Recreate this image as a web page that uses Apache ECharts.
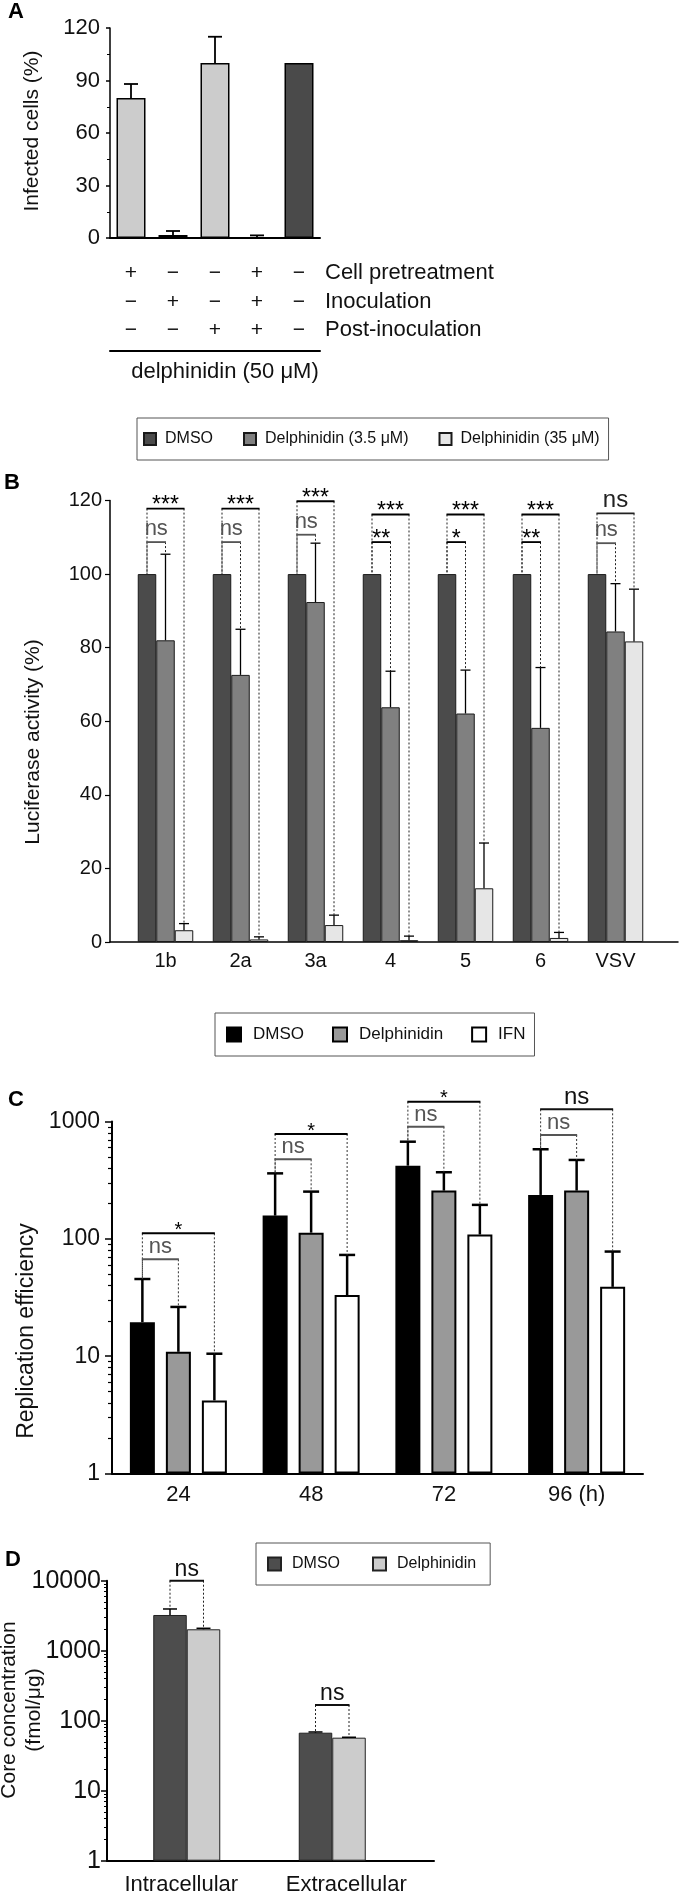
<!DOCTYPE html>
<html><head><meta charset="utf-8">
<script src="https://cdn.jsdelivr.net/npm/echarts@6/dist/echarts.min.js"></script>
<style>html,body{margin:0;padding:0;background:#fff}#c{width:680px;height:1893px}</style>
</head><body><div id="c"></div>
<script>
// ---------- Panel A ----------
const aCategories = ['c1', 'c2', 'c3', 'c4', 'c5'];
const aGroups = ['treated', 'treated', 'treated', 'treated', 'control'];
const aValues = [80, 1.7, 100, 0.4, 100];
const aErrorTops = [88, 4, 115, 1.5, null];
const aPretreatment = ['+', '−', '−', '+', '−'];
const aInoculation = ['−', '+', '−', '+', '−'];
const aPostInoculation = ['−', '−', '+', '+', '−'];

// ---------- Panel B ----------
const bCategories = ['1b', '2a', '3a', '4', '5', '6', 'VSV'];
const bDMSO = [100, 100, 100, 100, 100, 100, 100];
const bDelphinidin3_5 = [82, 72.6, 92.4, 63.8, 62.1, 58.2, 84.4];
const bDelphinidin3_5Err = [105.4, 85, 108.4, 73.6, 73.9, 74.6, 97.4];
const bDelphinidin35 = [3.2, 0.7, 4.6, 0.5, 14.6, 1.1, 81.7];
const bDelphinidin35Err = [5.0, 1.4, 7.3, 1.6, 26.9, 2.6, 95.9];
const bSigUpper = ['***', '***', '***', '***', '***', '***', 'ns'];
const bSigUpperLevel = [117.8, 117.8, 119.8, 116.2, 116.2, 116.2, 116.5];
const bSigLower = ['ns', 'ns', 'ns', '**', '*', '**', 'ns'];
const bSigLowerLevel = [108.7, 108.7, 110.7, 108.7, 108.7, 108.7, 108.4];

// ---------- Panel C ----------
const cCategories = ['24', '48', '72', '96 (h)'];
const cDMSO = [19.5, 158, 421, 237];
const cDMSOErr = [45.5, 362, 674, 581];
const cDelphinidin = [10.9, 113, 258, 258];
const cDelphinidinErr = [26.3, 253, 370, 471];
const cIFN = [4.2, 33.2, 109, 39];
const cIFNErr = [10.5, 73, 195, 78];
const cSigUpper = ['*', '*', '*', 'ns'];
const cSigUpperLevel = [111.6, 784, 1479, 1273];
const cSigLower = ['ns', 'ns', 'ns', 'ns'];
const cSigLowerLevel = [67, 477, 905, 769];
const cMinorTicks = [2, 3, 4, 5, 6, 7, 8, 9, 20, 30, 40, 50, 60, 70, 80, 90, 200, 300, 400, 500, 600, 700, 800, 900];

// ---------- Panel D ----------
const dCategories = ['Intracellular', 'Extracellular'];
const dDMSO = [3236, 67.4];
const dDMSOErr = [3944, 69];
const dDelphinidin = [2022, 57.2];
const dDelphinidinErr = [2090, 58];
const dSig = ['ns', 'ns'];
const dSigLevel = [10000, 167.5];
const dMinorTicks = [2, 3, 4, 5, 6, 7, 8, 9, 20, 30, 40, 50, 60, 70, 80, 90, 200, 300, 400, 500, 600, 700, 800, 900, 2000, 3000, 4000, 5000, 6000, 7000, 8000, 9000];

const FONT = 'Liberation Sans, Arial, Helvetica, sans-serif';
const TXT = '#111';

function errorSeries(xIdx, yIdx, vals, tops, offset, capW, lw) {
  const data = [];
  vals.forEach((v, i) => { if (tops[i] != null) data.push([i, v, tops[i]]); });
  return {
    type: 'custom', xAxisIndex: xIdx, yAxisIndex: yIdx, z: 5, silent: true, clip: false,
    data: data, encode: { x: 0, y: [1, 2] },
    renderItem: function (params, api) {
      const b = api.coord([api.value(0), api.value(1)]);
      const t = api.coord([api.value(0), api.value(2)]);
      const x = b[0] + offset;
      return { type: 'group', children: [
        { type: 'line', shape: { x1: x, y1: b[1], x2: x, y2: t[1] }, style: { stroke: '#000', lineWidth: lw } },
        { type: 'line', shape: { x1: x - capW / 2, y1: t[1], x2: x + capW / 2, y2: t[1] }, style: { stroke: '#000', lineWidth: lw } }
      ] };
    }
  };
}

function bracketSeries(xIdx, yIdx, list, offsets, st) {
  return {
    type: 'custom', xAxisIndex: xIdx, yAxisIndex: yIdx, z: 10, silent: true, clip: false,
    data: list.map(b => [b.cat, b.level]), encode: { x: 0, y: 1 },
    renderItem: function (params, api) {
      const b = list[params.dataIndex];
      const p = api.coord([b.cat, b.level]);
      const xl = p[0] + offsets[b.left], xr = p[0] + offsets[b.right];
      const yl = api.coord([b.cat, b.leftTo])[1], yr = api.coord([b.cat, b.rightTo])[1];
      const isNs = b.text === 'ns';
      const col = isNs ? (b.strong ? st.strongNsColor : st.nsColor) : st.starColor;
      const size = isNs ? (b.strong ? st.strongNsSize : st.nsSize) : st.starSize;
      const dash = { stroke: st.dotColor, lineWidth: 1, lineDash: [2, 2] };
      return { type: 'group', children: [
        { type: 'line', shape: { x1: xl, y1: p[1], x2: xl, y2: yl }, style: dash },
        { type: 'line', shape: { x1: xr, y1: p[1], x2: xr, y2: yr }, style: dash },
        { type: 'line', shape: { x1: xl - 0.5, y1: p[1], x2: xr + 0.5, y2: p[1] }, style: { stroke: col, lineWidth: st.lineWidth } },
        { type: 'text', x: (xl + xr) / 2, y: p[1] + (isNs ? st.nsDy : st.starDy),
          style: { text: b.text, fill: col, fontSize: size, fontFamily: FONT, align: 'center', verticalAlign: 'middle' } }
      ] };
    }
  };
}

const bBrackets = [];
bCategories.forEach((c, i) => {
  bBrackets.push({ cat: i, left: 0, right: 2, level: bSigUpperLevel[i], leftTo: bDMSO[i], rightTo: bDelphinidin35Err[i], text: bSigUpper[i], strong: true });
  bBrackets.push({ cat: i, left: 0, right: 1, level: bSigLowerLevel[i], leftTo: bDMSO[i], rightTo: bDelphinidin3_5Err[i], text: bSigLower[i] });
});
const cBrackets = [];
cCategories.forEach((c, i) => {
  cBrackets.push({ cat: i, left: 0, right: 2, level: cSigUpperLevel[i], leftTo: cDMSOErr[i], rightTo: cIFNErr[i], text: cSigUpper[i], strong: true });
  cBrackets.push({ cat: i, left: 0, right: 1, level: cSigLowerLevel[i], leftTo: cDMSOErr[i], rightTo: cDelphinidinErr[i], text: cSigLower[i] });
});
const dBrackets = dCategories.map((c, i) => ({ cat: i, left: 0, right: 1, level: dSigLevel[i], leftTo: dDMSOErr[i], rightTo: dDelphinidinErr[i], text: dSig[i], strong: true }));

function rowAxis(labels, offset, name) {
  return {
    type: 'category', gridIndex: 0, position: 'bottom', offset: offset, data: aCategories,
    axisLine: { show: false }, axisTick: { show: false }, splitLine: { show: false },
    axisLabel: { show: true, interval: 0, margin: 0, verticalAlign: 'middle', fontSize: 21, color: TXT, fontFamily: FONT, formatter: (v, i) => labels[i] },
    name: name, nameLocation: 'end', nameGap: 5,
    nameTextStyle: { fontSize: 22, color: TXT, fontFamily: FONT, align: 'left', verticalAlign: 'middle' }
  };
}
const noAxis = { axisLine: { show: false }, axisTick: { show: false }, axisLabel: { show: false }, splitLine: { show: false } };
const intFmt = v => String(Math.round(v));

const option = {
  animation: false,
  backgroundColor: '#fff',
  textStyle: { fontFamily: FONT },
  grid: [
    { left: 110, top: 28, width: 210, height: 210, outerBoundsMode: 'none' },
    { left: 128, top: 500.5, width: 525, height: 441.5, outerBoundsMode: 'none' },
    { left: 110, top: 500.5, width: 568, height: 441.5, outerBoundsMode: 'none' },
    { left: 112, top: 1121.6, width: 531, height: 351.9, outerBoundsMode: 'none' },
    { left: 114, top: 1580.7, width: 291, height: 280, outerBoundsMode: 'none' },
    { left: 107, top: 1580.7, width: 327, height: 280, outerBoundsMode: 'none' }
  ],
  legend: [
    { data: ['B|DMSO', 'B|Delphinidin (3.5 μM)', 'B|Delphinidin (35 μM)'], left: 137, top: 418, icon: 'rect',
      itemWidth: 12, itemHeight: 12, itemGap: 30, padding: [13, 9, 13, 6], borderColor: '#555', borderWidth: 1,
      selectedMode: false, formatter: n => n.split('|')[1],
      textStyle: { fontSize: 16, color: TXT, fontFamily: FONT, padding: [0, 0, 0, 4] } },
    { data: ['C|DMSO', 'C|Delphinidin', 'C|IFN'], left: 215, top: 1013, icon: 'rect',
      itemWidth: 14, itemHeight: 14, itemGap: 28, padding: [13, 9, 13, 11], borderColor: '#555', borderWidth: 1,
      selectedMode: false, formatter: n => n.split('|')[1],
      textStyle: { fontSize: 17, color: TXT, fontFamily: FONT, padding: [0, 0, 0, 7] } },
    { data: ['D|DMSO', 'D|Delphinidin'], left: 256, top: 1543, icon: 'rect',
      itemWidth: 13, itemHeight: 13, itemGap: 32, padding: [13, 14, 13, 11], borderColor: '#555', borderWidth: 1,
      selectedMode: false, formatter: n => n.split('|')[1],
      textStyle: { fontSize: 16, color: TXT, fontFamily: FONT, padding: [0, 0, 0, 6] } }
  ],
  xAxis: [
    { type: 'category', gridIndex: 0, data: aCategories, axisLine: { show: true, lineStyle: { color: '#000', width: 2 } },
      axisTick: { show: false }, axisLabel: { show: false }, splitLine: { show: false } },
    rowAxis(aPretreatment, 35, 'Cell pretreatment'),
    rowAxis(aInoculation, 64, 'Inoculation'),
    rowAxis(aPostInoculation, 92, 'Post-inoculation'),
    { type: 'category', gridIndex: 0, position: 'bottom', offset: 113, data: aCategories,
      axisLine: { show: true, lineStyle: { color: '#000', width: 2 } }, axisTick: { show: false }, axisLabel: { show: false },
      name: 'delphinidin (50 μM)', nameLocation: 'middle', nameGap: 10,
      nameTextStyle: { fontSize: 22, color: TXT, fontFamily: FONT, verticalAlign: 'top', padding: [0, 0, 0, 20] } },
    { type: 'category', gridIndex: 1, data: bCategories, axisLine: { show: false }, axisTick: { show: false },
      axisLabel: { interval: 0, margin: 9, fontSize: 20, color: TXT, fontFamily: FONT }, splitLine: { show: false } },
    Object.assign({ type: 'value', gridIndex: 2, min: 0, max: 1 }, noAxis, { axisLine: { show: true, lineStyle: { color: '#000', width: 1.5 } } }),
    { type: 'category', gridIndex: 3, data: cCategories, axisLine: { show: true, lineStyle: { color: '#000', width: 2 } }, axisTick: { show: false },
      axisLabel: { interval: 0, margin: 10, fontSize: 22, color: TXT, fontFamily: FONT }, splitLine: { show: false } },
    { type: 'category', gridIndex: 4, data: dCategories, axisLine: { show: false }, axisTick: { show: false },
      axisLabel: { interval: 0, margin: 13, fontSize: 22, color: TXT, fontFamily: FONT,
        formatter: (v, i) => (i === 0 ? '{a|' : '{b|') + v + '}',
        rich: { a: { fontSize: 22, fontFamily: FONT, color: TXT, padding: [0, 11, 0, 0] },
                b: { fontSize: 22, fontFamily: FONT, color: TXT, padding: [0, 0, 0, 28] } } },
      splitLine: { show: false } },
    Object.assign({ type: 'value', gridIndex: 5, min: 0, max: 1 }, noAxis, { axisLine: { show: true, lineStyle: { color: '#000', width: 2 } } })
  ],
  yAxis: [
    { type: 'value', gridIndex: 0, min: 0, max: 120, interval: 30,
      axisLine: { show: true, lineStyle: { color: '#000', width: 1.5 } },
      axisTick: { show: true, length: 4, lineStyle: { color: '#000', width: 1.5 } },
      minorTick: { show: true, splitNumber: 2, length: 3, lineStyle: { color: '#000', width: 1 } },
      axisLabel: { margin: 10, fontSize: 22, color: TXT, fontFamily: FONT }, splitLine: { show: false }, minorSplitLine: { show: false } },
    { type: 'value', gridIndex: 1, min: 0, max: 120, interval: 20, offset: 18,
      axisLine: { show: true, lineStyle: { color: '#000', width: 1.5 } },
      axisTick: { show: true, length: 5, lineStyle: { color: '#000', width: 1.2 } },
      axisLabel: { margin: 8, fontSize: 20, color: TXT, fontFamily: FONT }, splitLine: { show: false } },
    Object.assign({ type: 'value', gridIndex: 2, show: false }, noAxis),
    { type: 'log', gridIndex: 3, min: 1, max: 1000, position: 'left',
      axisLine: { show: true, lineStyle: { color: '#000', width: 2 } },
      axisTick: { show: true, length: 7, lineStyle: { color: '#000', width: 1.5 } },
      axisLabel: { margin: 12, fontSize: 23, color: TXT, fontFamily: FONT, formatter: intFmt }, splitLine: { show: false } },
    { type: 'log', gridIndex: 3, min: 1, max: 1000, position: 'left',
      axisLine: { show: false }, axisLabel: { show: false }, splitLine: { show: false },
      axisTick: { show: true, length: 4, customValues: cMinorTicks, lineStyle: { color: '#000', width: 1.2 } } },
    { type: 'log', gridIndex: 4, min: 1, max: 10000, position: 'left', offset: 7,
      axisLine: { show: true, lineStyle: { color: '#000', width: 2 } },
      axisTick: { show: true, length: 6, lineStyle: { color: '#000', width: 1.5 } },
      axisLabel: { margin: 6, fontSize: 25, color: TXT, fontFamily: FONT, formatter: intFmt }, splitLine: { show: false } },
    { type: 'log', gridIndex: 4, min: 1, max: 10000, position: 'left', offset: 7,
      axisLine: { show: false }, axisLabel: { show: false }, splitLine: { show: false },
      axisTick: { show: true, length: 3, customValues: dMinorTicks, lineStyle: { color: '#000', width: 1 } } },
    Object.assign({ type: 'value', gridIndex: 5, show: false }, noAxis)
  ],
  graphic: [
    { type: 'text', x: 16, y: 12, style: { text: 'A', fontSize: 22, fontWeight: 'bold', fontFamily: FONT, fill: '#000', align: 'center', verticalAlign: 'middle' } },
    { type: 'text', x: 12, y: 483, style: { text: 'B', fontSize: 22, fontWeight: 'bold', fontFamily: FONT, fill: '#000', align: 'center', verticalAlign: 'middle' } },
    { type: 'text', x: 16, y: 1100, style: { text: 'C', fontSize: 22, fontWeight: 'bold', fontFamily: FONT, fill: '#000', align: 'center', verticalAlign: 'middle' } },
    { type: 'text', x: 13, y: 1560, style: { text: 'D', fontSize: 22, fontWeight: 'bold', fontFamily: FONT, fill: '#000', align: 'center', verticalAlign: 'middle' } },
    { type: 'text', x: 32, y: 131, rotation: Math.PI / 2, style: { text: 'Infected cells (%)', fontSize: 21, fontFamily: FONT, fill: TXT, align: 'center', verticalAlign: 'middle' } },
    { type: 'text', x: 33, y: 742, rotation: Math.PI / 2, style: { text: 'Luciferase activity (%)', fontSize: 21, fontFamily: FONT, fill: TXT, align: 'center', verticalAlign: 'middle' } },
    { type: 'text', x: 27, y: 1331, rotation: Math.PI / 2, style: { text: 'Replication efficiency', fontSize: 23, fontFamily: FONT, fill: TXT, align: 'center', verticalAlign: 'middle' } },
    { type: 'text', x: 21.5, y: 1710, rotation: Math.PI / 2, style: { text: 'Core concentration\n(fmol/μg)', fontSize: 21, lineHeight: 25, fontFamily: FONT, fill: TXT, align: 'center', verticalAlign: 'middle' } }
  ],
  series: [
    // A
    { type: 'bar', name: 'A', xAxisIndex: 0, yAxisIndex: 0, data: aValues, barWidth: 29,
      itemStyle: { color: p => aGroups[p.dataIndex] === 'control' ? '#4a4a4a' : '#cccccc', borderColor: '#000', borderWidth: 1.5 } },
    errorSeries(0, 0, aValues, aErrorTops, 0, 14, 1.8),
    // B
    { type: 'bar', name: 'B|DMSO', xAxisIndex: 5, yAxisIndex: 1, data: bDMSO, barWidth: 18.5, barGap: '0%',
      itemStyle: { color: '#4b4b4b', borderColor: '#1a1a1a', borderWidth: 1 } },
    { type: 'bar', name: 'B|Delphinidin (3.5 μM)', xAxisIndex: 5, yAxisIndex: 1, data: bDelphinidin3_5, barWidth: 18.5, barGap: '0%',
      itemStyle: { color: '#808080', borderColor: '#1a1a1a', borderWidth: 1 } },
    { type: 'bar', name: 'B|Delphinidin (35 μM)', xAxisIndex: 5, yAxisIndex: 1, data: bDelphinidin35, barWidth: 18.5, barGap: '0%',
      itemStyle: { color: '#e6e6e6', borderColor: '#1a1a1a', borderWidth: 1 } },
    errorSeries(5, 1, bDelphinidin3_5, bDelphinidin3_5Err, 0, 10, 1.3),
    errorSeries(5, 1, bDelphinidin35, bDelphinidin35Err, 18.5, 10, 1.3),
    bracketSeries(5, 1, bBrackets, [-18.5, 0, 18.5],
      { nsColor: '#555', strongNsColor: '#222', starColor: '#000', dotColor: '#222', lineWidth: 1.8, nsSize: 22, strongNsSize: 24, starSize: 23, nsDy: -13, starDy: -2.6 }),
    // C
    { type: 'bar', name: 'C|DMSO', xAxisIndex: 7, yAxisIndex: 3, data: cDMSO, barWidth: 25, barGap: '44%',
      itemStyle: { color: '#000', borderColor: '#000', borderWidth: 2 } },
    { type: 'bar', name: 'C|Delphinidin', xAxisIndex: 7, yAxisIndex: 3, data: cDelphinidin, barWidth: 25, barGap: '44%',
      itemStyle: { color: '#999999', borderColor: '#000', borderWidth: 2 } },
    { type: 'bar', name: 'C|IFN', xAxisIndex: 7, yAxisIndex: 3, data: cIFN, barWidth: 25, barGap: '44%',
      itemStyle: { color: '#ffffff', borderColor: '#000', borderWidth: 2 } },
    errorSeries(7, 3, cDMSO, cDMSOErr, -36, 16, 2.5),
    errorSeries(7, 3, cDelphinidin, cDelphinidinErr, 0, 16, 2.5),
    errorSeries(7, 3, cIFN, cIFNErr, 36, 16, 2.5),
    bracketSeries(7, 3, cBrackets, [-36, 0, 36],
      { nsColor: '#555', strongNsColor: '#111', starColor: '#000', dotColor: '#333', lineWidth: 2, nsSize: 22, strongNsSize: 24, starSize: 20, nsDy: -12, starDy: -3 }),
    // D
    { type: 'bar', name: 'D|DMSO', xAxisIndex: 8, yAxisIndex: 5, data: dDMSO, barWidth: 33.5, barGap: '0%',
      itemStyle: { color: '#4d4d4d', borderColor: '#222', borderWidth: 1 } },
    { type: 'bar', name: 'D|Delphinidin', xAxisIndex: 8, yAxisIndex: 5, data: dDelphinidin, barWidth: 33.5, barGap: '0%',
      itemStyle: { color: '#cccccc', borderColor: '#222', borderWidth: 1 } },
    errorSeries(8, 5, dDMSO, dDMSOErr, -16.75, 14, 1.5),
    errorSeries(8, 5, dDelphinidin, dDelphinidinErr, 16.75, 14, 1.5),
    bracketSeries(8, 5, dBrackets, [-16.75, 16.75],
      { nsColor: '#111', strongNsColor: '#111', starColor: '#000', dotColor: '#222', lineWidth: 2, nsSize: 22, strongNsSize: 23, starSize: 22, nsDy: -11, starDy: -3 })
  ]
};

const chart = echarts.init(document.getElementById('c'), null, { renderer: 'canvas', width: 680, height: 1893 });
chart.setOption(option);
</script>
</body></html>
